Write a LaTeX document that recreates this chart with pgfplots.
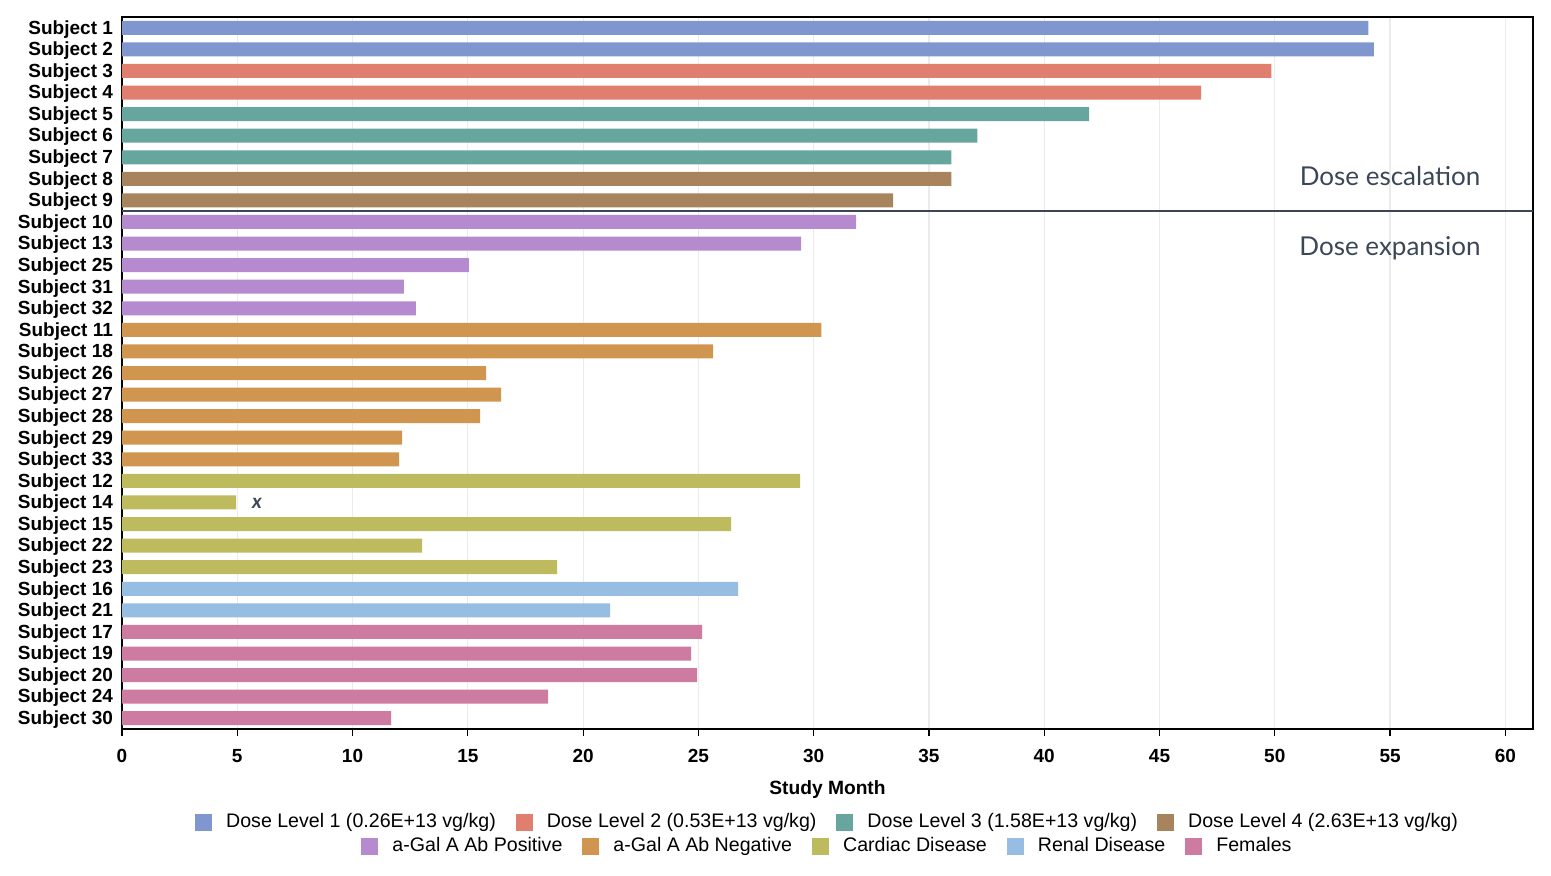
\documentclass[border=0pt]{standalone}
\usepackage{fontspec}
\setmainfont{Liberation Sans}
\newfontfamily\notefont{Lato}
\usepackage{pgfplots}
\pgfplotsset{compat=1.18}

\definecolor{dlone}{HTML}{7F97CE}
\definecolor{dltwo}{HTML}{E07E6F}
\definecolor{dlthree}{HTML}{67A69E}
\definecolor{dlfour}{HTML}{A8845E}
\definecolor{abpos}{HTML}{B58ACE}
\definecolor{abneg}{HTML}{D09650}
\definecolor{cardiac}{HTML}{BDBB5E}
\definecolor{renal}{HTML}{97BDE3}
\definecolor{females}{HTML}{CE7BA2}
\definecolor{slate}{HTML}{3B4756}

\pgfplotsset{
  sqlegend/.style={
    legend image code/.code={\fill[##1,draw=none] (0pt,-4.25pt) rectangle (8.5pt,4.25pt);},
    legend style={draw=none, fill=none, font=\fontsize{9.8}{12}\selectfont,
      anchor=center, inner sep=0pt,
      nodes={inner sep=1pt},
      /tikz/every odd column/.append style={column sep=6pt},
      /tikz/every even column/.append style={column sep=9pt}},
  },
}

\begin{document}
\begin{tikzpicture}
\useasboundingbox (-61pt,-73pt) rectangle (714.5pt,364.5pt);
\begin{axis}[
  at={(0,0)}, anchor=south west,
  scale only axis, width=705.5pt, height=356pt,
  xbar, bar width=7pt,
  xmin=0, xmax=61.2, ymin=-0.5, ymax=32.5,
  y dir=reverse,
  xtick={0,5,...,60},
  ytick={0,...,32},
  yticklabels={Subject 1,Subject 2,Subject 3,Subject 4,Subject 5,Subject 6,Subject 7,Subject 8,Subject 9,
    Subject 10,Subject 13,Subject 25,Subject 31,Subject 32,
    Subject 11,Subject 18,Subject 26,Subject 27,Subject 28,Subject 29,Subject 33,
    Subject 12,Subject 14,Subject 15,Subject 22,Subject 23,
    Subject 16,Subject 21,
    Subject 17,Subject 19,Subject 20,Subject 24,Subject 30},
  /pgf/number format/assume math mode=true,
  tick label style={font=\fontsize{9.5}{11}\selectfont\bfseries},
  yticklabel style={xshift=2.5pt, yshift=-0.7pt},
  xticklabel style={yshift=-3pt},
  ytick style={draw=none},
  xtick pos=bottom, tick align=outside,
  major tick length=3.5pt,
  xtick style={black, line width=0.6pt},
  xmajorgrids, grid style={black!8, line width=0.6pt},
  axis line style={black, line width=0.75pt},
  xlabel={Study Month},
  xlabel style={font=\fontsize{9.6}{11}\selectfont\bfseries, yshift=-2pt},
  sqlegend,
  legend columns=4,
  legend style={at={(0.5,0)}, yshift=-46.5pt},
]
\addplot[fill=dlone, draw=none, bar shift=0pt] coordinates {(54.06,0) (54.30,1)};
\addplot[fill=dltwo, draw=none, bar shift=0pt] coordinates {(49.85,2) (46.80,3)};
\addplot[fill=dlthree, draw=none, bar shift=0pt] coordinates {(41.95,4) (37.10,5) (35.97,6)};
\addplot[fill=dlfour, draw=none, bar shift=0pt] coordinates {(35.97,7) (33.45,8)};
\addplot[fill=abpos, draw=none, bar shift=0pt] coordinates {(31.84,9) (29.46,10) (15.05,11) (12.23,12) (12.75,13)};
\addplot[fill=abneg, draw=none, bar shift=0pt] coordinates {(30.33,14) (25.64,15) (15.79,16) (16.44,17) (15.53,18) (12.15,19) (12.02,20)};
\addplot[fill=cardiac, draw=none, bar shift=0pt] coordinates {(29.41,21) (4.95,22) (26.42,23) (13.02,24) (18.87,25)};
\addplot[fill=renal, draw=none, bar shift=0pt] coordinates {(26.72,26) (21.17,27)};
\addplot[fill=females, draw=none, bar shift=0pt] coordinates {(25.16,28) (24.69,29) (24.95,30) (18.48,31) (11.67,32)};
\legend{Dose Level 1 (0.26E+13 vg/kg),Dose Level 2 (0.53E+13 vg/kg),Dose Level 3 (1.58E+13 vg/kg),Dose Level 4 (2.63E+13 vg/kg)}
\draw[slate, line width=0.8pt] (axis cs:0,8.5) -- (axis cs:61.2,8.5);
\node[slate, font=\notefont\fontsize{13}{15}\selectfont] at (axis cs:55.0,6.86) {Dose escalation};
\node[slate, font=\notefont\fontsize{13}{15}\selectfont] at (axis cs:55.0,10.22) {Dose expansion};
\node[slate, font=\notefont\itshape\bfseries\fontsize{10}{12}\selectfont] at (axis cs:5.86,22.05) {x};
\end{axis}
\begin{axis}[
  at={(0,0)}, anchor=south west,
  scale only axis, width=705.5pt, height=356pt,
  hide axis, xmin=0, xmax=1, ymin=0, ymax=1,
  sqlegend,
  legend columns=5,
  legend style={at={(0.5,0)}, yshift=-58.5pt},
]
\addlegendimage{fill=abpos}
\addlegendimage{fill=abneg}
\addlegendimage{fill=cardiac}
\addlegendimage{fill=renal}
\addlegendimage{fill=females}
\legend{a-Gal A Ab Positive,a-Gal A Ab Negative,Cardiac Disease,Renal Disease,Females}
\end{axis}
\end{tikzpicture}
\end{document}
